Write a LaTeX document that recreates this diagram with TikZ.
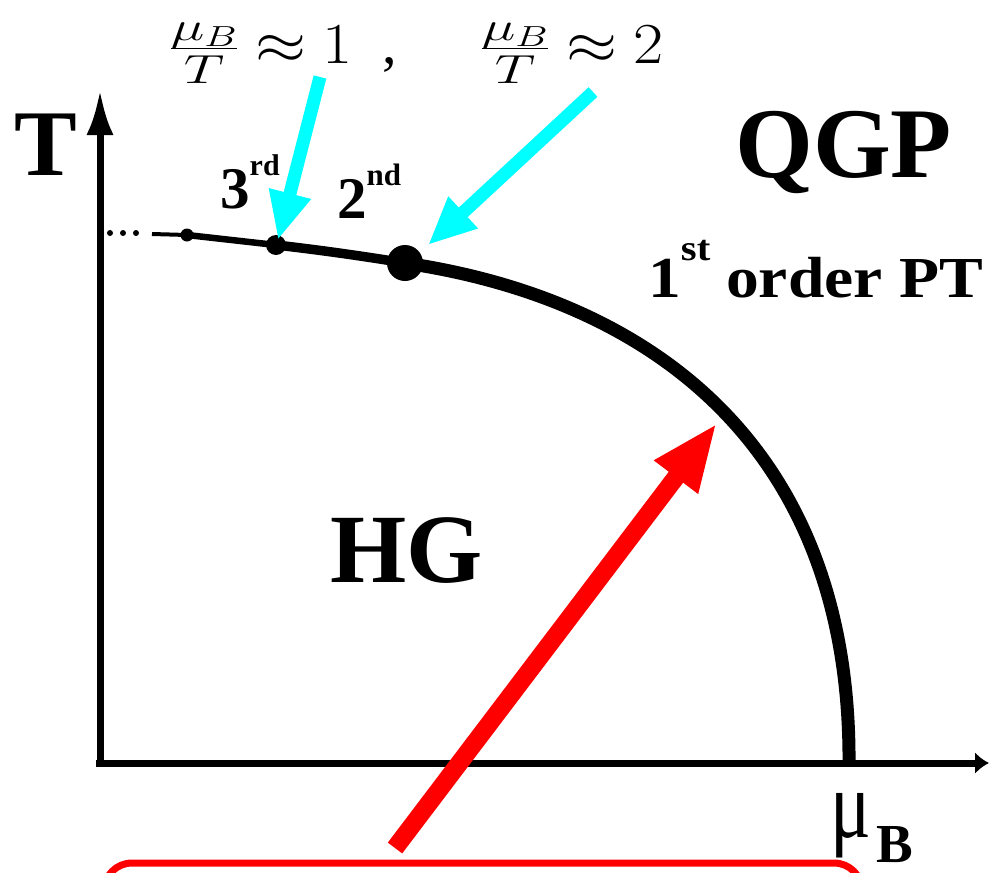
\RequirePackage{fix-cm}
\documentclass[tikz,border=0pt]{standalone}
\usepackage[no-math]{fontspec}
\usepackage{graphicx}
\setmainfont{Liberation Serif}
\usetikzlibrary{arrows.meta}
\definecolor{cyanA}{RGB}{0,255,255}
\definecolor{redA}{RGB}{255,0,0}
\newcommand{\ratiolabel}[1]{$\scalebox{1.4}[1]{$\frac{\mu_B}{T}$}\mathrel{\scalebox{1.13}[1]{$\approx$}}\scalebox{1.13}[1]{$#1$}$}
\begin{document}
\begin{tikzpicture}[x=1pt,y=-1pt,
  axisline/.style={line width=7pt,black},
  cyanarrow/.style={cyanA,line width=13pt,-{Triangle[length=48pt,width=40pt]}},
  redarrow/.style={redA,line width=18pt,-{Triangle[length=68pt,width=50pt]}},
  dotnode/.style={circle,fill=black,inner sep=0pt,minimum size=#1},
  lbl/.style={inner sep=0pt,anchor=base west}]
\useasboundingbox (0,0) rectangle (989,873);
\clip (0,0) rectangle (989,873);

% axes
\coordinate (yb) at (100,767);
\coordinate (yt) at (100,90);
\coordinate (xb) at (96,763);
\coordinate (xt) at (989,763);
\draw[axisline,-{Latex[length=45pt,width=27pt]}] (yb) -- (yt);
\draw[axisline,-{Latex[length=14pt,width=22pt]}] (xb) -- (xt);

% dots on the line
\node[dotnode=6pt] (e1) at (110,233) {};
\node[dotnode=6pt] (e2) at (123,233) {};
\node[dotnode=6pt] (e3) at (136,233) {};
\coordinate (l0) at (152,234);
\node[dotnode=13pt] (d1) at (187,235) {};
\node[dotnode=20pt] (d2) at (276,245) {};
\node[dotnode=36pt] (d3) at (405,263) {};

% transition line
\draw[line width=4pt] (l0) -- (d1.center);
\draw[line width=6.5pt] (d1.center) -- (d2.center);
\draw[line width=9.5pt] (d2.center) .. controls (320,250) and (362,256) .. (d3.center);
\coordinate (cend) at (849,766);
\draw[line width=13pt] (d3.center) .. controls (655,300) and (852,450) .. (cend);

% labels
\node[lbl,font=\fontsize{94}{94}\selectfont\bfseries] (T) at (14,175) {T};
\node[lbl,font=\fontsize{100}{100}\selectfont\bfseries] (QGP) at (735,177) {QGP};
\node[lbl,font=\fontsize{98}{98}\selectfont\bfseries] (HG) at (330,582) {HG};
\node[lbl,font=\fontsize{58}{58}\selectfont\bfseries] (first) at (648,297)
  {\scalebox{1.13}[1]{1\raisebox{37pt}{\fontsize{36}{36}\selectfont st}\hspace{14pt}order PT}};
\node[lbl,font=\fontsize{59}{59}\selectfont\bfseries] (third) at (220,208)
  {3\raisebox{33pt}{\fontsize{30}{30}\selectfont rd}};
\node[lbl,font=\fontsize{59}{59}\selectfont\bfseries] (second) at (337,218)
  {2\raisebox{33pt}{\fontsize{31}{31}\selectfont nd}};
\node[lbl,font=\fontsize{58}{58}\selectfont] (m1) at (169,63) {\ratiolabel{1}\hspace{30pt},};
\node[lbl,font=\fontsize{58}{58}\selectfont] (m2) at (480,63) {\ratiolabel{2}};
\node[lbl] (muB) at (830,837) {\fontsize{80}{80}\selectfont\scalebox{0.95}[1.2]{μ}\hspace{6pt}\raisebox{-25pt}{\fontsize{55}{55}\selectfont\bfseries B}};

% arrows
\coordinate (c1t) at (320,77);
\coordinate (c1h) at (278,240);
\coordinate (c2t) at (593,92);
\coordinate (c2h) at (428,245);
\draw[cyanarrow] (c1t) -- (c1h);
\draw[cyanarrow] (c2t) -- (c2h);
\coordinate (rt) at (395,848);
\coordinate (rh) at (717,423);
\draw[redarrow] (rt) -- (rh);

% red box (cut by the picture edge)
\draw[redA,line width=7pt,rounded corners=28pt] (104,863) rectangle (862,1000);
\end{tikzpicture}
\end{document}
